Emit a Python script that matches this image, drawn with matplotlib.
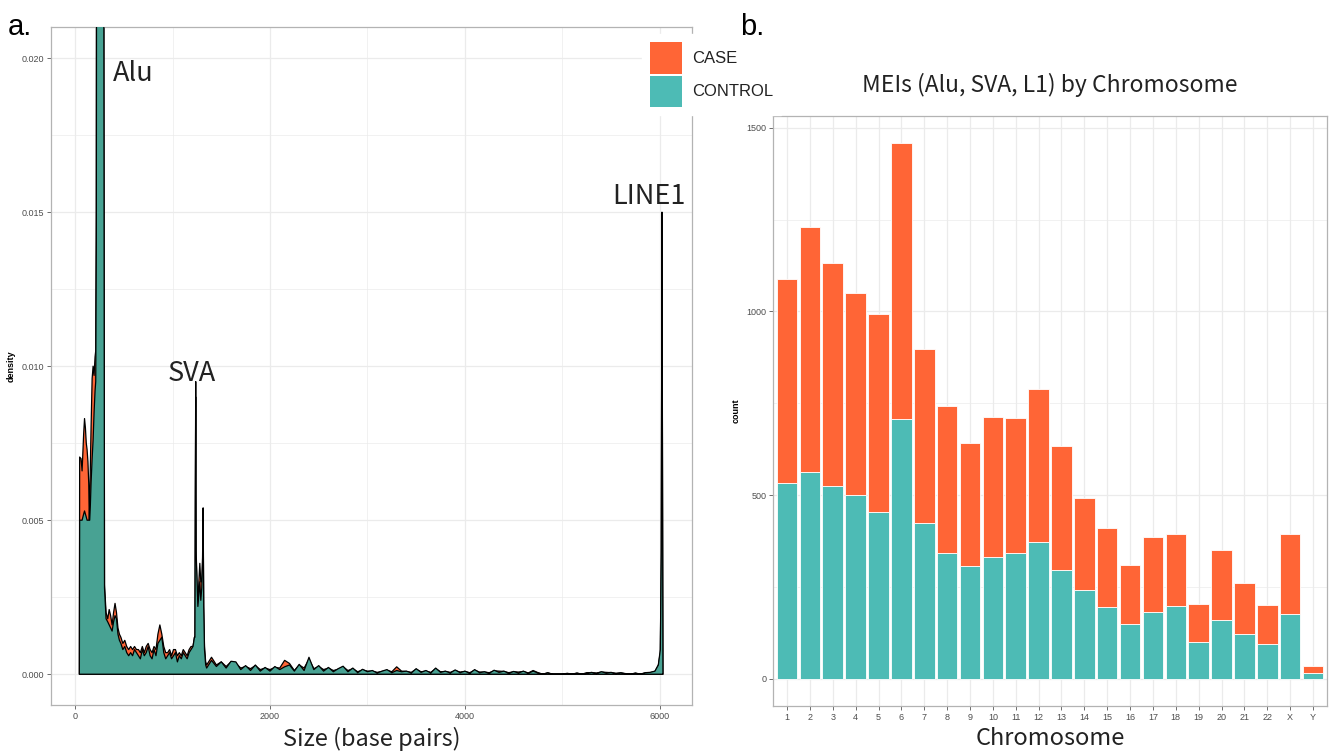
import numpy as np
import matplotlib.pyplot as plt
from matplotlib.patches import Patch

# Colores
naranja = "#FF6536"
verde = "#4DBBB5"
verde_oscuro = "#48A293"

# ---- Panel a: densidad del tamaño (valores en 1e-4) ----
alu_x = [44, 47, 61, 72, 80, 88, 97, 106, 115, 123, 132, 140, 146, 150, 157, 164,
         175, 185, 195, 205, 212, 218, 224, 235, 250, 265, 280, 290, 296, 302]
alu_case = [0, 70.5, 70, 66, 72, 78, 83, 80, 75, 73, 69, 62, 50, 55, 68, 80,
            96, 100, 97, 103, 105, 150, 400, 600, 650, 640, 600, 450, 200, 29]
alu_control = [0, 50, 50, 50, 51, 52, 53, 52, 51, 50, 50, 50, 50, 50, 55, 62,
               70, 76, 85, 92, 95, 140, 380, 590, 640, 630, 590, 440, 190, 28]

mid_x = [318, 335, 350, 365, 380, 395, 410, 425, 440, 455, 470, 490, 510, 530, 550,
         570, 590, 610, 630, 650, 670, 690, 710, 730, 750, 770, 790, 810, 830, 850,
         870, 890, 910, 930, 950, 970, 990, 1010, 1030, 1050, 1070, 1090, 1110, 1130,
         1150, 1170, 1190, 1210, 1225]
mid_case = [20, 18, 21, 19, 16, 20, 23, 20, 15, 13, 12, 10, 11, 9, 8,
            9, 8, 9, 8, 8, 7, 9, 7, 9, 10, 8, 7, 9, 8, 13,
            16, 13, 9, 7, 7, 8, 6, 8, 8, 6, 7, 6, 8, 7,
            6, 8, 9, 9, 12]
mid_control = [18, 17, 16, 15, 14, 17, 19, 18, 13, 11, 10, 8, 9, 7, 6,
               7, 6, 8, 7, 6, 5, 8, 6, 7, 9, 6, 5, 8, 6, 10,
               11, 12, 7, 5, 6, 7, 5, 6, 7, 4, 6, 5, 7, 6,
               5, 7, 8, 9, 12]

sva_x = [1230, 1234, 1238, 1242, 1250, 1260, 1270, 1280, 1290, 1300, 1308, 1314, 1320, 1328, 1340]
sva_case = [12, 55, 90, 38, 30, 23, 30, 36, 30, 30, 36, 50, 22, 9, 4]
sva_control = [12, 60, 95, 40, 32, 22, 26, 30, 24, 28, 38, 54, 22, 8, 3]

tail_x = list(range(1350, 6000, 50))
tail_case = [3.0, 5.5, 3.0, 4.0, 2.5, 4.0, 3.5, 2.0, 2.5, 1.8, 2.8, 1.5, 2.0, 1.5, 2.2, 2.0,
             4.5, 3.5, 1.2, 3.0, 2.0, 4.8, 1.8, 2.5, 1.5, 2.0, 1.2, 1.6, 2.4, 1.2, 1.8, 0.8,
             1.4, 1.0, 1.0, 0.6, 0.9, 1.3, 0.8, 2.4, 1.0, 0.9, 0.6, 1.6, 0.8, 1.0, 0.6, 1.8,
             0.8, 0.9, 0.6, 1.2, 0.7, 0.9, 0.5, 1.3, 0.7, 0.7, 0.5, 1.1, 1.0, 0.9, 0.5, 0.8,
             0.7, 0.9, 0.4, 1.2, 0.5, 0.0, 0.4, 0.0, 0.0, 0.0, 0.2, 0.0, 0.3, 0.0, 0.5, 0.5,
             0.4, 0.7, 0.6, 0.5, 0.3, 0.4, 0.2, 0.0, 0.3, 0.0, 0.4, 0.5, 0.9]
tail_control = [2.0, 4.5, 2.5, 4.0, 2.0, 4.2, 4.0, 1.5, 2.8, 1.2, 3.0, 1.0, 2.2, 1.0, 2.5, 1.5,
                2.4, 3.0, 1.0, 3.2, 1.2, 5.5, 1.5, 2.8, 1.0, 2.2, 0.8, 1.8, 2.6, 0.8, 2.0, 0.5,
                1.6, 0.8, 1.2, 0.4, 1.0, 1.5, 0.5, 1.2, 0.8, 1.0, 0.4, 1.8, 0.6, 1.2, 0.4, 2.0,
                0.6, 1.0, 0.4, 1.4, 0.5, 1.0, 0.3, 1.5, 0.5, 0.8, 0.3, 1.3, 0.6, 1.0, 0.3, 0.9,
                0.4, 1.0, 0.3, 1.0, 0.4, 0.0, 0.5, 0.0, 0.0, 0.0, 0.3, 0.0, 0.4, 0.0, 0.3, 0.6,
                0.2, 0.8, 0.4, 0.6, 0.2, 0.5, 0.1, 0.0, 0.4, 0.0, 0.5, 0.6, 1.0]

line1_x = [5985, 6005, 6015, 6022, 6028, 6032]
line1_case = [3, 7, 38, 148, 55, 0]
line1_control = [3, 8, 40, 150, 60, 0]

size_bp = np.array(alu_x + mid_x + sva_x + tail_x + line1_x)
case_density = np.array(alu_case + mid_case + sva_case + tail_case + line1_case) * 1e-4
control_density = np.array(alu_control + mid_control + sva_control + tail_control + line1_control) * 1e-4

# ---- Panel b: conteo por cromosoma ----
cromosomas = [str(i) for i in range(1, 23)] + ["X", "Y"]
control_counts = [534, 563, 525, 500, 454, 707, 423, 342, 306, 332, 342, 373,
                  297, 243, 195, 150, 181, 198, 101, 160, 123, 95, 177, 16]
case_counts = [555, 668, 608, 549, 538, 751, 476, 400, 336, 381, 368, 415,
               336, 250, 215, 159, 205, 196, 103, 191, 138, 106, 217, 19]

fuente_jp = ["Noto Sans CJK JP", "DejaVu Sans"]
fuente_tick = "Liberation Sans"
gris_grid = "#EBEBEB"
gris_borde = "#B3B3B3"


def estilo(ax):
    ax.set_axisbelow(True)
    ax.grid(True, which="major", color=gris_grid, lw=0.9)
    ax.grid(True, which="minor", color=gris_grid, lw=0.5)
    for s in ax.spines.values():
        s.set_color(gris_borde)
        s.set_linewidth(0.9)
    ax.tick_params(which="major", length=3, width=0.6, color="#555555",
                   labelsize=6.5, labelcolor="#4D4D4D", pad=2)
    ax.tick_params(which="minor", length=0)
    for lab in ax.get_xticklabels() + ax.get_yticklabels():
        lab.set_fontfamily(fuente_tick)


fig = plt.figure(figsize=(13.31, 7.55), dpi=100)

# Panel a
ax1 = fig.add_axes([0.0381, 0.0662, 0.4818, 0.8976])
ax1.fill_between(size_bp, case_density, color=naranja, edgecolor="black", lw=0.9, zorder=2)
ax1.fill_between(size_bp, control_density, color=verde_oscuro, edgecolor="black", lw=0.9, zorder=3)
ax1.set_xlim(-250, 6330)
ax1.set_ylim(-0.001, 0.021)
ax1.set_xticks([0, 2000, 4000, 6000])
ax1.set_xticks([1000, 3000, 5000], minor=True)
ax1.set_yticks([0.0, 0.005, 0.010, 0.015, 0.020])
ax1.set_yticklabels(["0.000", "0.005", "0.010", "0.015", "0.020"])
ax1.set_yticks([0.0025, 0.0075, 0.0125, 0.0175], minor=True)
estilo(ax1)
ax1.set_xlabel("Size (base pairs)", fontsize=17, family=fuente_jp, color="#222222", labelpad=4)
ax1.set_ylabel("density", fontsize=6.5, fontweight="bold", family=fuente_tick, labelpad=4)

ax1.text(383, 0.01926, "Alu", fontsize=19.5, family=fuente_jp, color="#222222", va="baseline", zorder=5)
ax1.text(949, 0.00953, "SVA", fontsize=19.5, family=fuente_jp, color="#222222", va="baseline", zorder=5)
ax1.text(5515, 0.01525, "LINE1", fontsize=19.5, family=fuente_jp, color="#222222", va="baseline", zorder=5)

# Panel b
ax2 = fig.add_axes([0.5810, 0.0653, 0.4158, 0.7815])
pos = np.arange(1, len(cromosomas) + 1)
ax2.bar(pos, control_counts, width=0.9, color=verde, edgecolor="white", lw=0.6, zorder=2)
ax2.bar(pos, case_counts, width=0.9, bottom=control_counts, color=naranja,
        edgecolor="white", lw=0.6, zorder=2)
ax2.set_xlim(0.4, 24.6)
ax2.set_ylim(-73, 1533)
ax2.set_xticks(pos)
ax2.set_xticklabels(cromosomas)
ax2.set_yticks([0, 500, 1000, 1500])
ax2.set_yticks([250, 750, 1250], minor=True)
estilo(ax2)
ax2.set_xlabel("Chromosome", fontsize=17, family=fuente_jp, color="#222222", labelpad=4)
ax2.set_ylabel("count", fontsize=6.5, fontweight="bold", family=fuente_tick, labelpad=4)
ax2.set_title("MEIs (Alu, SVA, L1) by Chromosome", fontsize=16.5, family=fuente_jp,
              color="#222222", pad=17)

# Leyenda
handles = [Patch(facecolor=naranja, edgecolor="none", label="CASE"),
           Patch(facecolor=verde, edgecolor="none", label="CONTROL")]
leg = fig.legend(handles=handles, loc="upper left", bbox_to_anchor=(0.4761, 0.966),
                 frameon=True, fancybox=False, framealpha=1, edgecolor="white",
                 handlelength=1.9, handleheight=2.5, handletextpad=0.6,
                 labelspacing=0.12, borderpad=0.5, prop={"family": fuente_tick, "size": 12})
for t in leg.get_texts():
    t.set_color("#222222")

fig.text(0.006, 0.953, "a.", fontsize=21, family=fuente_tick, zorder=10)
fig.text(0.556, 0.953, "b.", fontsize=21, family=fuente_tick, zorder=10)

plt.savefig("out.png", dpi=100)
